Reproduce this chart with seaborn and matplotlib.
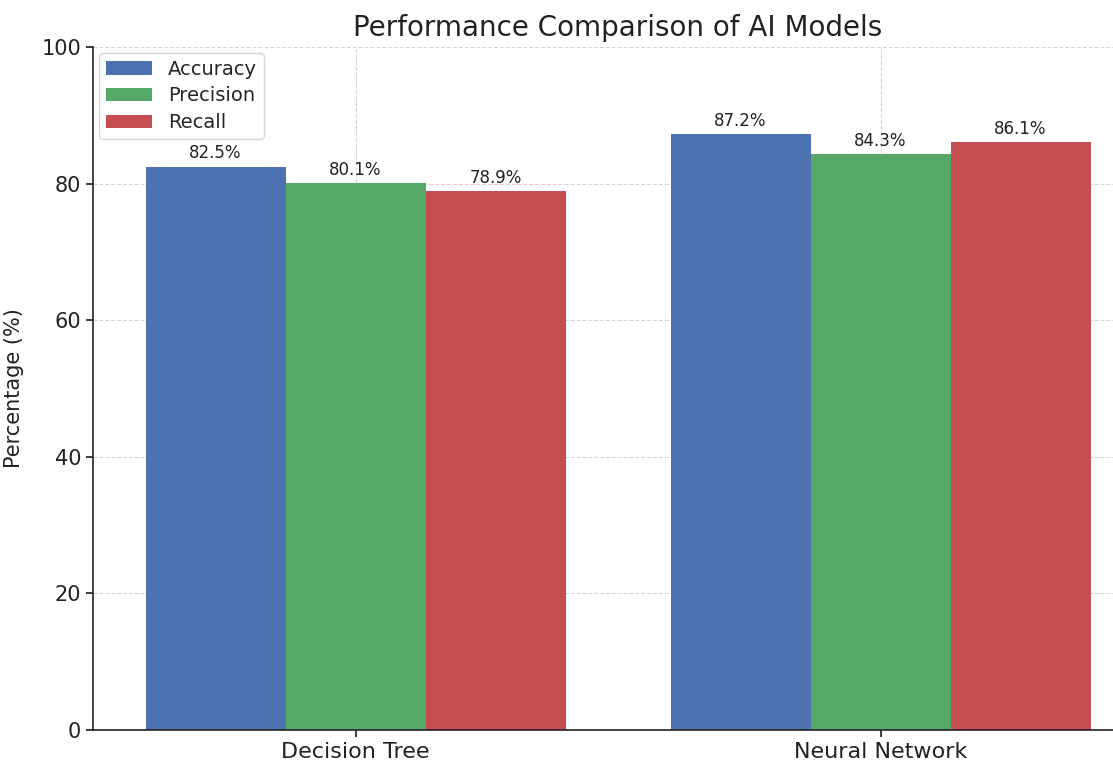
import matplotlib
matplotlib.use("Agg")
import matplotlib.pyplot as plt
import seaborn as sns
import pandas as pd

models = ["Decision Tree", "Neural Network"]
metrics = ["Accuracy", "Precision", "Recall"]
accuracy = [82.5, 87.2]
precision = [80.1, 84.3]
recall = [78.9, 86.1]
colors = ["#4c72b0", "#55a868", "#c44e52"]

rows = []
for metric, vals in zip(metrics, [accuracy, precision, recall]):
    for m, v in zip(models, vals):
        rows.append({"Model": m, "Metric": metric, "Value": v})
df = pd.DataFrame(rows)

sns.set_theme(style="white")
plt.rcParams['font.family'] = ['DejaVu Sans']

W, H = 1113, 762
fig = plt.figure(figsize=(W / 100, H / 100), dpi=100)
ax = fig.add_axes([93 / W, 32 / H, 1050 / W, 683 / H])

sns.barplot(data=df, x="Model", y="Value", hue="Metric", hue_order=metrics,
            palette=colors, ax=ax, saturation=1, errorbar=None, width=0.8,
            edgecolor="none", linewidth=0)

for cont in ax.containers:
    ax.bar_label(cont, fmt="%.1f%%", padding=3, fontsize=12, color="#222222")

ax.set_ylim(0, 100)
ax.set_xlim(-0.5, 1.5)
ax.set_yticks([0, 20, 40, 60, 80, 100])
ax.tick_params(axis="both", length=5, color="#222222", labelcolor="#222222")
ax.tick_params(axis="y", left=True, labelsize=15)
ax.tick_params(axis="x", bottom=True, labelsize=16)
ax.set_xlabel("")
ax.set_ylabel("Percentage (%)", fontsize=15, color="#222222")
ax.yaxis.set_label_coords(-0.066, 0.5)
ax.set_title("Performance Comparison of AI Models", fontsize=20, color="#222222", pad=8)

ax.grid(True, linestyle="--", color="#d5d5d5", linewidth=0.8)
ax.set_axisbelow(True)
for s in ["top", "right"]:
    ax.spines[s].set_visible(False)
for s in ["left", "bottom"]:
    ax.spines[s].set_color("#222222")
    ax.spines[s].set_linewidth(1.2)

leg = ax.legend(loc="upper left", fontsize=14, frameon=True, title=None,
                borderaxespad=0.3, borderpad=0.35, labelspacing=0.4,
                handlelength=2.4)
leg.get_frame().set_edgecolor("#cccccc")

fig.savefig("out.png", dpi=100)
